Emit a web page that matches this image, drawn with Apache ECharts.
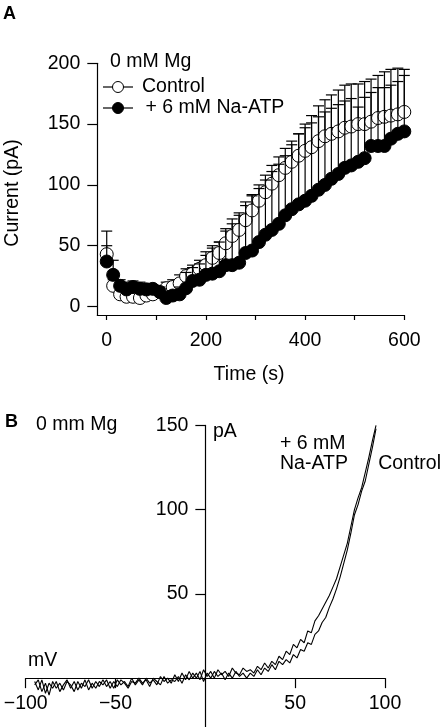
<!DOCTYPE html>
<html><head><meta charset="utf-8">
<script src="https://cdn.jsdelivr.net/npm/echarts@6/dist/echarts.min.js"></script>
<style>html,body{margin:0;padding:0;background:#fff}#c{width:442px;height:727px}</style>
</head><body><div id="c"></div>
<script>
// Panel A data: time (s), mean current (pA), top of upward error bar (pA)
var timeS = [0,13,27,40,53,67,80,93,107,120,133,147,160,173,187,200,213,227,240,253,267,280,293,307,320,333,347,360,373,387,400,413,427,440,453,467,480,493,507,520,533,547,560,573,587,600];
var controlA = [43,17,10,8,8,7,9,10,12,15,16,19,25,27,31,34,40,44,52,58,63,71,79,87,94,101,108,114,119,124,128,131,136,140,142,144,147,148,150,150,152,155,156,157,158,160];
var controlTop = [62,22,14,12,12,11,13,14,17,20,22,26,31,34,38,42,48,53,62,68,75,83,92,100,108,116,123,130,136,142,147,151,156,160,163,166,169,171,164,172,176,180,180,182,185,190];
var atpA = [37,26,17,14,16,14.5,14,14.5,12,7,9,10,15,21,22,26,27,29,34,34,36,44,46,53,59,63,68,75,80,84,87,91,96,100,105,109,114,116,119,122,132,132,132,138,142,144];
var atpTop = [50,38,22,20,21,20,19,18,16,11,13,16,28,32,35,45,50,53,64,72,77,86,91,97,104,111,117,124,133,142,150,157,165,170,174,178,182,183,183,185,187,190,193,195,196,195];
var xTicksA = [0,100,200,300,400,500,600];
var xLabelsA = [0,200,400,600];
var yTicksA = [0,50,100,150,200];

// Panel B data: voltage (mV), current (pA)
var voltB = [-95,-93,-91,-89,-87,-85,-83,-81,-79,-77,
-75,-73,-71,-69,-67,-65,-63,-61,-59,-57,
-55,-53,-51,-49,-47,-45,-43,-41,-39,-37,
-35,-33,-31,-29,-27,-25,-23,-21,-19,-17,
-15,-13,-11,-9,-7,-5,-3,-1,1,3,
5,7,9,11,13,15,17,19,21,23,
25,27,29,31,33,35,37,39,41,43,
45,47,49,51,53,55,57,59,61,63,
65,67,69,71,73,75,77,79,81,83,
85,87,89,91,93,95];
var atpB = [-2,-7,-1,-9,-3,-6,-2,-8,-4,-1,
-6,-2,-7,-3,-5,-1,-6,-2,-5,-1,
-5,-2,-6,-1,-4,-2,-5,0,-4,-1,
-4,0,-3,-1,-4,1,-2,0,-3,2,
-2,3,-1,4,0,3,-1,5,1,4,
0,5,2,4,1,6,3,2,6,4,
5,3,7,5,9,6,10,8,13,11,
16,14,20,18,23,21,28,27,34,37,
41,45,49,54,59,66,73,80,90,100,
107,113,122,131,141,150];
var controlB = [-4,-1,-8,-3,-10,-2,-6,-3,-7,-2,
-4,-8,-2,-6,-1,-7,-3,-6,-2,-4,
-1,-6,-2,-5,-1,-3,-6,-2,-3,0,
-3,-1,-5,0,-2,-4,1,-3,-1,-2,
1,-3,2,-1,3,0,4,-2,3,0,
4,1,3,-1,3,0,4,1,3,0,
3,1,5,2,6,4,8,5,10,8,
11,9,14,12,17,16,21,20,26,28,
33,36,42,47,53,60,68,76,86,97,
103,111,117,127,137,148];
var xTicksB = [-100,-50,50,100];
var yTicksB = [50,100,150];

var FF = '"Liberation Sans", Arial, Helvetica, sans-serif';
var FS = 19.5;

// Panel B grid geometry; axes cross at the origin
var gB = {left:25.7, top:425.4, width:359.3, height:301.6};
var xMinB = -100, xMaxB = 100, yMinB = -29, yMaxB = 150;
var yAxisOffsetB = -gB.width * (0 - xMinB) / (xMaxB - xMinB);
var xAxisOffsetB = -gB.height * (0 - yMinB) / (yMaxB - yMinB);

function pairs(xs, ys){ return xs.map(function(x,i){return [x, ys[i]];}); }
function triples(xs, ys, ts){ return xs.map(function(x,i){return [x, ys[i], ts[i]];}); }

function errRender(params, api){
  var p = api.coord([api.value(0), api.value(1)]);
  var t = api.coord([api.value(0), api.value(2)]);
  var st = {stroke:'#000', lineWidth:1.2};
  return {type:'group', children:[
    {type:'line', shape:{x1:p[0], y1:p[1], x2:p[0], y2:t[1]}, style:st},
    {type:'line', shape:{x1:p[0]-5.5, y1:t[1], x2:p[0]+5.5, y2:t[1]}, style:st}
  ]};
}

var axisTxt = {color:'#000', fontSize:FS, fontFamily:FF};
var axLine = {onZero:false, lineStyle:{color:'#000', width:1.2}};
var tickSt = {color:'#000', width:1.2};

function txt(s, x, y, opt){
  opt = opt || {};
  return {type:'text', x:x, y:y, rotation:opt.rot||0, z:10, style:{text:s, fill:'#000', fontSize:opt.fs||FS, fontFamily:FF,
    fontWeight:opt.bold?'bold':'normal', align:opt.align||'left', verticalAlign:'middle'}};
}

var chart = echarts.init(document.getElementById('c'), null, {renderer:'canvas'});
chart.setOption({
  animation:false,
  backgroundColor:'#fff',
  grid:[
    {left:97.3, top:63.3, width:307, height:251.7, containLabel:false, outerBoundsMode:'none'},
    {left:gB.left, top:gB.top, width:gB.width, height:gB.height, containLabel:false, outerBoundsMode:'none'}
  ],
  xAxis:[
    {gridIndex:0, type:'value', min:-19, max:600, axisLine:axLine,
     axisTick:{customValues:xTicksA, length:5, lineStyle:tickSt},
     axisLabel:Object.assign({customValues:xLabelsA, margin:16}, axisTxt), splitLine:{show:false}},
    {gridIndex:1, type:'value', min:xMinB, max:xMaxB, position:'bottom', offset:xAxisOffsetB, axisLine:axLine,
     axisTick:{customValues:xTicksB, length:10, lineStyle:tickSt},
     axisLabel:Object.assign({customValues:xTicksB, margin:15, formatter:function(v){return v<0?'\u2212'+Math.abs(v):String(v);}}, axisTxt),
     splitLine:{show:false}}
  ],
  yAxis:[
    {gridIndex:0, type:'value', min:-7, max:200, axisLine:axLine,
     axisTick:{customValues:yTicksA, length:10, lineStyle:tickSt},
     axisLabel:Object.assign({customValues:yTicksA, margin:17}, axisTxt), splitLine:{show:false}},
    {gridIndex:1, type:'value', min:yMinB, max:yMaxB, position:'left', offset:yAxisOffsetB, axisLine:axLine,
     axisTick:{customValues:yTicksB, length:10, lineStyle:tickSt},
     axisLabel:Object.assign({customValues:yTicksB, margin:17}, axisTxt), splitLine:{show:false}}
  ],
  series:[
    {type:'custom', xAxisIndex:0, yAxisIndex:0, renderItem:errRender, data:triples(timeS, controlA, controlTop), encode:{x:0, y:[1,2]}, z:2},
    {type:'scatter', xAxisIndex:0, yAxisIndex:0, data:pairs(timeS, controlA), symbol:'circle', symbolSize:13,
     itemStyle:{color:'#fff', borderColor:'#000', borderWidth:1, opacity:1}, z:3},
    {type:'custom', xAxisIndex:0, yAxisIndex:0, renderItem:errRender, data:triples(timeS, atpA, atpTop), encode:{x:0, y:[1,2]}, z:4},
    {type:'scatter', xAxisIndex:0, yAxisIndex:0, data:pairs(timeS, atpA), symbol:'circle', symbolSize:13,
     itemStyle:{color:'#000', borderColor:'#000', borderWidth:1, opacity:1}, z:5},
    {type:'line', xAxisIndex:1, yAxisIndex:1, data:pairs(voltB, controlB), showSymbol:false, symbol:'none',
     lineStyle:{color:'#000', width:1.1}},
    {type:'line', xAxisIndex:1, yAxisIndex:1, data:pairs(voltB, atpB), showSymbol:false, symbol:'none',
     lineStyle:{color:'#000', width:1.1}}
  ],
  graphic:[
    txt('A', 3, 14, {bold:true, fs:18}),
    txt('Current (pA)', 13, 193, {rot:Math.PI/2, align:'center'}),
    txt('Time (s)', 249, 375, {align:'center'}),
    txt('0 mM Mg', 110, 62),
    {type:'line', shape:{x1:103, y1:87, x2:133, y2:87}, style:{stroke:'#000', lineWidth:1.2}, z:10},
    {type:'circle', shape:{cx:118, cy:87, r:5.5}, style:{fill:'#fff', stroke:'#000', lineWidth:1}, z:11},
    txt('Control', 142, 87),
    {type:'line', shape:{x1:103, y1:108, x2:133, y2:108}, style:{stroke:'#000', lineWidth:1.2}, z:10},
    {type:'circle', shape:{cx:118, cy:108, r:5.5}, style:{fill:'#000', stroke:'#000', lineWidth:1}, z:11},
    txt('+ 6 mM Na-ATP', 145.5, 108),
    txt('B', 5, 422, {bold:true, fs:18}),
    txt('0 mm Mg', 36, 425),
    txt('pA', 213, 432),
    txt('+ 6 mM', 280, 444),
    txt('Na-ATP', 280, 464),
    txt('Control', 441, 464, {align:'right'}),
    txt('mV', 28, 661)
  ]
});
</script>
</body></html>
